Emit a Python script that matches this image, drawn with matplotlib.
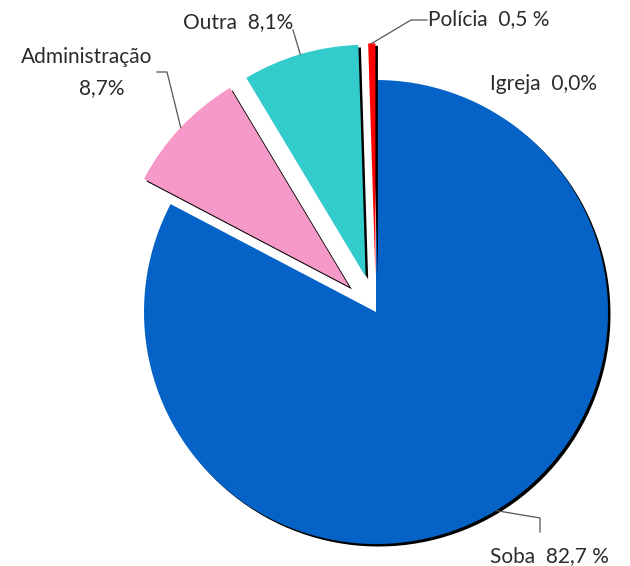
import numpy as np
import matplotlib.pyplot as plt
import matplotlib.patheffects as pe

labels = ['Soba', 'Administração', 'Outra', 'Polícia', 'Igreja']
values = [82.7, 8.7, 8.1, 0.5, 0.0]
pct_text = ['82,7 %', '8,7%', '8,1%', '0,5 %', '0,0%']
colors = ['#0563C8', '#F799C8', '#33CCCC', '#FF0000', '#7F7F7F']
explode = [0, 0.158, 0.158, 0.158, 0]

W, H = 630, 566
R = 232
fig = plt.figure(figsize=(W / 100, H / 100), dpi=100)
ax = fig.add_axes([0, 0, 1, 1])

# explode in pie is in data units, so scale it by the radius
wedges, _ = ax.pie(values, colors=colors, explode=[e * R for e in explode], startangle=90,
                   counterclock=False, radius=R, center=(376, H - 312),
                   wedgeprops=dict(edgecolor='none', linewidth=0))
for w in wedges:
    w.set_path_effects([pe.SimplePatchShadow(offset=(1.8, -1.8), shadow_rgbFace='black', alpha=1.0),
                        pe.Normal()])

ax.set_xlim(0, W)
ax.set_ylim(0, H)
ax.set_aspect('equal')
ax.axis('off')


def arc_point(w):
    t = np.deg2rad((w.theta1 + w.theta2) / 2)
    return w.center[0] + w.r * np.cos(t), w.center[1] + w.r * np.sin(t)


font = dict(family='Lato', fontsize=15, color='#2b2b2b')
line = dict(color='#555555', lw=0.9)

# Soba
x0, y0 = arc_point(wedges[0])
ax.plot([x0, 540, 540], [y0, H - 518, H - 532], **line)
ax.text(490, H - 556, labels[0] + '  ' + pct_text[0], ha='left', va='center', **font)

# Administração
x0, y0 = arc_point(wedges[1])
ax.plot([x0, 167, 157], [y0, H - 72, H - 72], **line)
ax.text(152, H - 57, labels[1], ha='right', va='center', **font)
ax.text(125, H - 88, pct_text[1], ha='right', va='center', **font)

# Outra
x0, y0 = arc_point(wedges[2])
ax.plot([x0, 293], [y0, H - 30], **line)
ax.text(293, H - 22, labels[2] + '  ' + pct_text[2], ha='right', va='center', **font)

# Polícia
x0, y0 = arc_point(wedges[3])
ax.plot([x0, 411, 427], [y0, H - 20, H - 20], **line)
ax.text(428, H - 19, labels[3] + '  ' + pct_text[3], ha='left', va='center', **font)

# Igreja
ax.text(490, H - 84, labels[4] + '  ' + pct_text[4], ha='left', va='center', **font)

fig.savefig('out.png', dpi=100)
